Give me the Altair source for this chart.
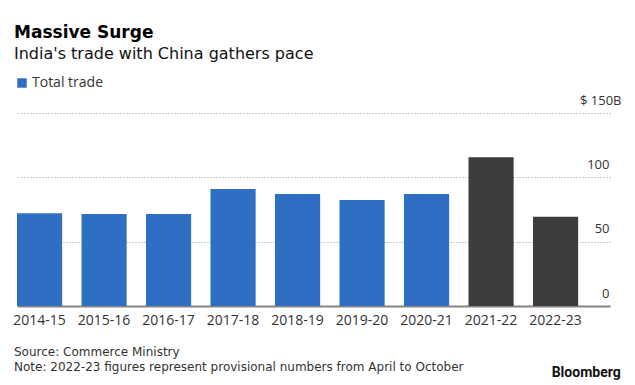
import altair as alt
import pandas as pd

years = ["2014-15", "2015-16", "2016-17", "2017-18", "2018-19",
         "2019-20", "2020-21", "2021-22", "2022-23"]
values = [72.0, 71.5, 71.5, 90.9, 87.0, 82.4, 87.0, 115.6, 69.4]
groups = ["Total trade"] * 7 + ["Highlight"] * 2
y_ticks = [0, 50, 100, 150]

title_text = "Massive Surge"
subtitle_text = "India's trade with China gathers pace"
source_text = "Source: Commerce Ministry"
note_text = "Note: 2022-23 figures represent provisional numbers from April to October"
brand_text = "Bloomberg"

BLUE = "#2e6fc4"
DARK = "#3e3c3d"
W, H = 593, 193

df = pd.DataFrame({"year": years, "value": values, "group": groups})

bars = alt.Chart(df).mark_bar().encode(
    x=alt.X("year:N", sort=years, title=None,
            scale=alt.Scale(paddingInner=0.3, paddingOuter=0.247, align=0),
            axis=alt.Axis(labelAngle=0, labelFont="Open Sans", labelFontSize=14,
                          labelColor="#333333", ticks=False, tickSize=0, labelPadding=7,
                          domainColor="#858585", domainWidth=2, grid=False)),
    y=alt.Y("value:Q", title=None, scale=alt.Scale(domain=[0, 150], nice=False),
            axis=alt.Axis(orient="right", values=y_ticks, ticks=False, tickSize=0, domain=False,
                          labelAlign="right", labelBaseline="alphabetic", labelOffset=-9,
                          labelPadding={"condition": {"test": "datum.value == 150", "value": 11},
                                        "value": -1},
                          labelExpr="datum.value == 150 ? '$ 150B' : datum.label",
                          gridDash=[1, 2], gridColor="#9a9a9a", gridWidth=1,
                          labelFont="Open Sans", labelFontSize=13, labelColor="#333333")),
    color=alt.Color("group:N",
                    scale=alt.Scale(domain=["Total trade", "Highlight"], range=[BLUE, DARK]),
                    legend=alt.Legend(values=["Total trade"], orient="none", legendX=-2, legendY=-37,
                                      title=None, symbolType="square", symbolSize=90,
                                      symbolStrokeWidth=0, labelFont="Open Sans", labelOffset=3,
                                      labelFontSize=14, labelColor="#333333")),
)

src = alt.Chart(pd.DataFrame({"t": [source_text]})).mark_text(
    align="left", baseline="alphabetic", font="DejaVu Sans", fontSize=12, color="#333333"
).encode(text="t:N", x=alt.value(-3), y=alt.value(243.3))

note = alt.Chart(pd.DataFrame({"t": [note_text]})).mark_text(
    align="left", baseline="alphabetic", font="DejaVu Sans", fontSize=12, color="#333333"
).encode(text="t:N", x=alt.value(-3), y=alt.value(257.7))

brand = alt.Chart(pd.DataFrame({"t": [brand_text]})).mark_text(
    align="right", baseline="alphabetic", font="Roboto", fontSize=14, fontWeight="bold",
    color="#111111"
).encode(text="t:N", x=alt.value(603.7), y=alt.value(263.7))

chart = alt.layer(bars, src, note, brand).properties(
    width=W, height=H,
    autosize="none",
    padding={"left": 9, "top": 105, "right": 14, "bottom": 75},
    title=alt.TitleParams(text=title_text, subtitle=subtitle_text, anchor="start",
                          frame="group", orient="top", dx=-3, offset=13,
                          font="DejaVu Sans", fontSize=17, fontWeight="bold", color="#000000",
                          subtitleFont="DejaVu Sans", subtitleFontSize=16,
                          subtitleColor="#111111", subtitlePadding=4),
).configure_view(stroke=None)

chart.save("out.html", embed_options={"renderer": "svg", "actions": False})
